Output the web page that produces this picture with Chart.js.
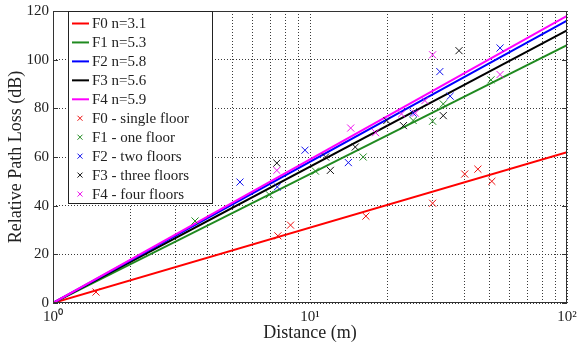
<!DOCTYPE html>
<html>
<head>
<meta charset="utf-8">
<script src="https://cdn.jsdelivr.net/npm/chart.js@4.4.0/dist/chart.umd.min.js"></script>
<style>
  html, body { margin: 0; padding: 0; background: #fff; }
  #wrap { width: 577px; height: 344px; }
</style>
</head>
<body>
<div id="wrap"><canvas id="chart" width="577" height="344"></canvas></div>
<script>
// fitted lines (end points)
const fitDist = [1, 100];
const f0Fit = [0, 62];
const f1Fit = [0, 106];
const f2Fit = [0, 116];
const f3Fit = [0, 112];
const f4Fit = [0, 118];

// measurements
const f0Dist = [1.47, 7.5, 8.4, 16.5, 30, 40, 45, 51];
const f0Loss = [4.5, 27.6, 32, 35.7, 41, 53, 55, 50];
const f1Dist = [3.57, 6.95, 10.5, 16.1, 25.2, 30, 33, 50.6];
const f1Loss = [33.7, 44.5, 54.2, 60, 75, 74.7, 81.8, 91.7];
const f2Dist = [5.34, 7.46, 9.56, 14.1, 25.2, 32, 35.1, 54.9];
const f2Loss = [49.7, 47.7, 62.8, 57.7, 78, 95.1, 85, 104.8];
const f3Dist = [7.43, 11.5, 12.0, 15.0, 19.9, 23.1, 33.0, 38.0];
const f3Loss = [57.5, 60, 54.5, 64.1, 75, 72.9, 77, 103.7];
const f4Dist = [7.43, 14.4, 18.0, 22.7, 25.7, 28.0, 30.0, 54.9];
const f4Loss = [54.5, 71.9, 70, 77.7, 78, 83.2, 102, 93.9];

// axes
const xTicks = [1, 2, 3, 4, 5, 6, 7, 8, 9, 10, 20, 30, 40, 50, 60, 70, 80, 90, 100];
const xMajor = [1, 10, 100];
const xMajorLabels = ["10\u2070", "10\u00b9", "10\u00b2"];
const yTicks = [0, 20, 40, 60, 80, 100, 120];

const serif = "'Liberation Serif', 'Times New Roman', serif";
const textColor = "#222";

const toPoints = (xs, ys) => xs.map((x, i) => ({ x: x, y: ys[i] }));

function fitLine(label, ys, color, order) {
	return {
		label: label,
		data: toPoints(fitDist, ys),
		showLine: true,
		borderColor: color,
		backgroundColor: color,
		borderWidth: 2,
		pointRadius: 0,
		fill: false,
		order: order,
	};
}

function marks(label, xs, ys, color) {
	return {
		label: label,
		data: toPoints(xs, ys),
		showLine: false,
		pointStyle: "crossRot",
		pointRadius: 5,
		borderWidth: 1,
		borderColor: color,
		backgroundColor: color,
		order: 0,
	};
}

const datasets = [
	fitLine("F0 n=3.1", f0Fit, "#ff0000", 5),
	fitLine("F1 n=5.3", f1Fit, "#1f8a1f", 4),
	fitLine("F2 n=5.8", f2Fit, "#0000ff", 2),
	fitLine("F3 n=5.6", f3Fit, "#000000", 3),
	fitLine("F4 n=5.9", f4Fit, "#ff00ff", 1),
	marks("F0 - single floor", f0Dist, f0Loss, "#ee1111"),
	marks("F1 - one floor", f1Dist, f1Loss, "#1f8a1f"),
	marks("F2 - two floors", f2Dist, f2Loss, "#1111ee"),
	marks("F3 - three floors", f3Dist, f3Loss, "#111111"),
	marks("F4 - four floors", f4Dist, f4Loss, "#ee11ee"),
];

// frame, inner ticks and the legend box inside the plot
const framePlugin = {
	id: "frame",
	afterDraw(chart) {
		const ctx = chart.ctx;
		const area = chart.chartArea;
		const yScale = chart.scales.y;
		ctx.save();
		ctx.setLineDash([]);
		ctx.strokeStyle = "#333";
		ctx.lineWidth = 1;
		ctx.strokeRect(area.left + 0.5, area.top + 0.5, area.right - area.left - 1, area.bottom - area.top - 1);
		yTicks.forEach((v) => {
			const py = Math.round(yScale.getPixelForValue(v)) + 0.5;
			ctx.beginPath();
			ctx.moveTo(area.left, py);
			ctx.lineTo(area.left + 5, py);
			ctx.moveTo(area.right - 5, py);
			ctx.lineTo(area.right, py);
			ctx.stroke();
		});

		// legend
		const left = area.left + 15;
		const top = area.top;
		const w = 144;
		const h = 192;
		ctx.fillStyle = "#fff";
		ctx.fillRect(left, top, w, h);
		ctx.strokeStyle = "#222";
		ctx.strokeRect(left + 0.5, top + 0.5, w, h);
		ctx.font = "15px " + serif;
		ctx.textBaseline = "middle";
		ctx.textAlign = "left";
		chart.data.datasets.forEach((ds, i) => {
			const y = top + 12.5 + i * 18.95;
			ctx.strokeStyle = ds.borderColor;
			if (ds.showLine) {
				ctx.lineWidth = 2;
				ctx.beginPath();
				ctx.moveTo(left + 4, y);
				ctx.lineTo(left + 21, y);
				ctx.stroke();
			} else {
				ctx.lineWidth = 1;
				ctx.beginPath();
				ctx.moveTo(left + 9.5, y - 2.5);
				ctx.lineTo(left + 14.5, y + 2.5);
				ctx.moveTo(left + 14.5, y - 2.5);
				ctx.lineTo(left + 9.5, y + 2.5);
				ctx.stroke();
			}
			ctx.fillStyle = textColor;
			ctx.fillText(ds.label, left + 24, y + 1);
		});
		ctx.restore();
	},
};

const config = {
	type: "scatter",
	data: { datasets: datasets },
	options: {
		responsive: false,
		animation: false,
		layout: { padding: { top: 11, right: 10, left: 0, bottom: 0 } },
		plugins: {
			legend: { display: false },
			tooltip: { enabled: false },
		},
		scales: {
			x: {
				type: "logarithmic",
				min: 1,
				max: 100,
				afterBuildTicks: (scale) => {
					scale.ticks = xTicks.map((v) => ({ value: v, major: xMajor.includes(v) }));
				},
				afterFit: (scale) => {
					scale.height = 41;
					scale.paddingLeft = 0;
					scale.paddingRight = 0;
				},
				grid: { color: "#3a3a3a", lineWidth: 1, drawTicks: false },
				border: { display: false, dash: [1, 2] },
				ticks: {
					autoSkip: false,
					maxRotation: 0,
					padding: 5,
					color: textColor,
					font: { family: serif, size: 15 },
					callback: (value) => {
						const idx = xMajor.indexOf(value);
						return idx >= 0 ? xMajorLabels[idx] : "";
					},
				},
				title: {
					display: true,
					text: "Distance (m)",
					color: textColor,
					font: { family: serif, size: 18 },
					padding: 0,
				},
			},
			y: {
				min: 0,
				max: 120,
				afterBuildTicks: (scale) => {
					scale.ticks = yTicks.map((v) => ({ value: v }));
				},
				afterFit: (scale) => {
					scale.width = 53;
					scale.paddingTop = 0;
					scale.paddingBottom = 0;
				},
				grid: { color: "#3a3a3a", lineWidth: 1, drawTicks: false },
				border: { display: false, dash: [1, 2] },
				ticks: {
					padding: 4,
					color: textColor,
					font: { family: serif, size: 15 },
				},
				title: {
					display: true,
					text: "Relative Path Loss (dB)",
					color: textColor,
					font: { family: serif, size: 18 },
					padding: { top: 5, bottom: 0 },
				},
			},
		},
	},
	plugins: [framePlugin],
};

new Chart(document.getElementById("chart"), config);
</script>
</body>
</html>
